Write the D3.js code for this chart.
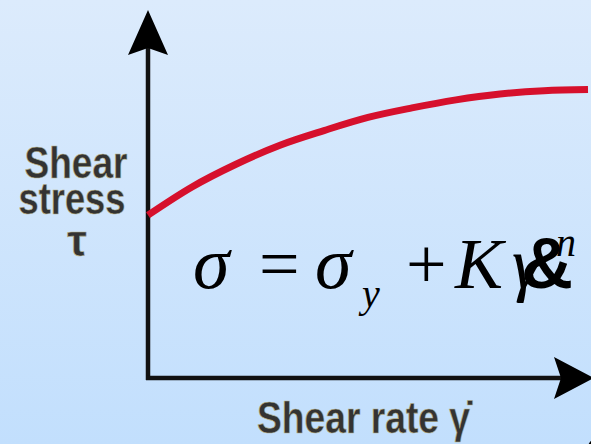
<!DOCTYPE html>
<html>
<head>
<meta charset="utf-8">
<script src="https://cdn.jsdelivr.net/npm/d3@7"></script>
<style>
  html, body { margin: 0; padding: 0; overflow: hidden; }
</style>
</head>
<body>
<div id="chart"></div>
<script>
var canvasWidth = 591;
var canvasHeight = 444;

// Herschel-Bulkley curve (arbitrary units)
var shearRate = [0, 1, 2, 3, 4, 5, 6, 7, 8, 9, 10];
var shearStress = [4.45, 5.22, 5.84, 6.36, 6.76, 7.12, 7.38, 7.6, 7.76, 7.85, 7.88];
var yLabelLines = ["Shear", "stress", "\u03c4"];
var xLabel = "Shear rate \u03b3\u0307";

var svg = d3.select("#chart")
    .append("svg")
    .attr("width", canvasWidth)
    .attr("height", canvasHeight);

/*Background gradient*/
var grad = svg.append("defs").append("linearGradient")
    .attr("id", "bg")
    .attr("x1", 0).attr("y1", 0).attr("x2", 0).attr("y2", 1);
grad.append("stop").attr("offset", "0%").attr("stop-color", "#dcebfc");
grad.append("stop").attr("offset", "100%").attr("stop-color", "#c2dffd");

svg.append("rect")
    .attr("width", canvasWidth)
    .attr("height", canvasHeight)
    .attr("fill", "url(#bg)");

/*Scales*/
var xScale = d3.scaleLinear().domain([0, 10]).range([148, 588]);
var yScale = d3.scaleLinear().domain([0, 10]).range([378, 12]);

var x0 = xScale(0), y0 = yScale(0);
var yTop = yScale.range()[1];
var xEnd = xScale.range()[1] + 6;

/*Axes*/
var axes = svg.append("g");
axes.append("line")
    .attr("x1", x0).attr("y1", y0 + 2)
    .attr("x2", x0).attr("y2", yTop + 30)
    .attr("stroke", "#111")
    .attr("stroke-width", 4.5);
axes.append("line")
    .attr("x1", x0 - 2).attr("y1", y0)
    .attr("x2", xEnd - 30).attr("y2", y0)
    .attr("stroke", "#111")
    .attr("stroke-width", 4.5);

// arrow heads
axes.append("path")
    .attr("d", "M" + x0 + "," + (yTop - 2) +
        " L" + (x0 + 20) + "," + (yTop + 43) +
        " L" + x0 + "," + (yTop + 36) +
        " L" + (x0 - 20) + "," + (yTop + 43) + " Z")
    .attr("fill", "#000");
axes.append("path")
    .attr("d", "M" + xEnd + "," + y0 +
        " L" + (xEnd - 40) + "," + (y0 - 21) +
        " L" + (xEnd - 33) + "," + y0 +
        " L" + (xEnd - 40) + "," + (y0 + 21) + " Z")
    .attr("fill", "#000");

/*Curve*/
var pts = shearRate.map(function(d, i) { return [d, shearStress[i]]; });
svg.append("path")
    .datum(pts)
    .attr("fill", "none")
    .attr("stroke", "#d6102c")
    .attr("stroke-width", 7)
    .attr("d", d3.line()
        .x(function(d) { return xScale(d[0]); })
        .y(function(d) { return yScale(d[1]); })
        .curve(d3.curveMonotoneX));

/*Axis labels*/
var labelFont = "'Liberation Sans Narrow', 'Liberation Sans', Arial, sans-serif";
var yl = svg.append("g")
    .attr("font-family", labelFont)
    .attr("font-weight", "bold")
    .attr("fill", "#333")
    .attr("stroke", "#b8b28a")
    .attr("stroke-width", 0.6)
    .attr("text-anchor", "middle");
yl.append("text").attr("x", 76).attr("y", 178).attr("font-size", 45)
    .attr("textLength", 103).attr("lengthAdjust", "spacingAndGlyphs")
    .text(yLabelLines[0]);
yl.append("text").attr("x", 72).attr("y", 214).attr("font-size", 45)
    .attr("textLength", 107).attr("lengthAdjust", "spacingAndGlyphs")
    .text(yLabelLines[1]);
yl.append("text").attr("x", 77).attr("y", 256).attr("font-size", 44)
    .text(yLabelLines[2]);

svg.append("text")
    .attr("x", 257).attr("y", 433)
    .attr("font-family", labelFont)
    .attr("font-weight", "bold")
    .attr("font-size", 44)
    .attr("fill", "#333")
    .attr("stroke", "#b8b28a")
    .attr("stroke-width", 0.6)
    .attr("textLength", 213).attr("lengthAdjust", "spacingAndGlyphs")
    .text(xLabel);

/*Formula*/
var serif = "'Liberation Serif', 'Times New Roman', serif";
var f = svg.append("g").attr("font-family", serif).attr("fill", "#000");
f.append("text").attr("x", 193).attr("y", 288).attr("font-size", 74).attr("font-style", "italic").text("\u03c3");
f.append("text").attr("x", 259).attr("y", 288).attr("font-size", 72).text("=");
f.append("text").attr("x", 315).attr("y", 288).attr("font-size", 74).attr("font-style", "italic").text("\u03c3");
f.append("text").attr("x", 362).attr("y", 307).attr("font-size", 40).attr("font-style", "italic").text("y");
f.append("text").attr("x", 406).attr("y", 288).attr("font-size", 72).text("+");
f.append("text").attr("x", 455).attr("y", 288).attr("font-size", 72).attr("font-style", "italic").text("K");
f.append("text").attr("x", 512).attr("y", 288).attr("font-size", 72).attr("font-style", "italic").text("\u03b3");
f.append("text").attr("x", 521).attr("y", 288).attr("font-size", 72).attr("font-weight", "bold")
    .attr("font-family", "'Liberation Sans', Arial, sans-serif").text("&");
f.append("text").attr("x", 556).attr("y", 256).attr("font-size", 40).attr("font-style", "italic").text("n");
f.append("text").attr("x", 584).attr("y", 468).attr("font-size", 72).attr("font-style", "italic").text("\u03c3");
</script>
</body>
</html>
